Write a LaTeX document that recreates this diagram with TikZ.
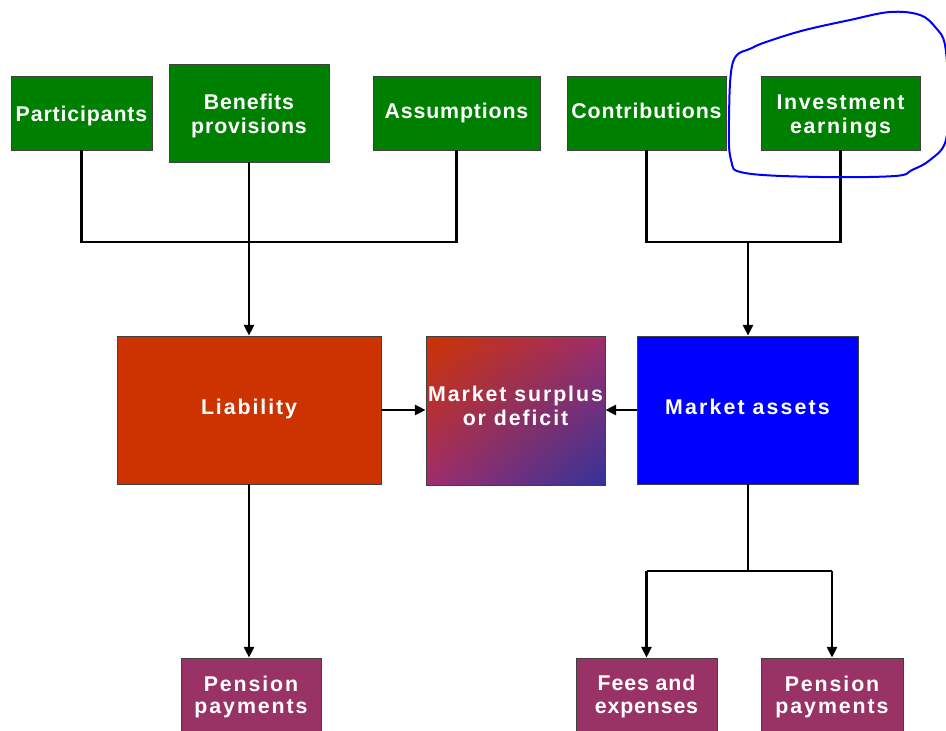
\documentclass[tikz,border=0pt]{standalone}
\usepackage{fontspec}
\setmainfont{Liberation Sans}
\usetikzlibrary{arrows.meta,shadings}
\definecolor{boxgreen}{RGB}{0,128,0}
\definecolor{liabred}{RGB}{204,51,0}
\definecolor{assetblue}{RGB}{0,0,255}
\definecolor{paypurple}{RGB}{153,51,102}
\definecolor{gradblue}{RGB}{51,51,153}
\definecolor{gradmid}{RGB}{160,45,110}
% #1 vertical shift, #2 letter spacing, #3 lines
\newcommand\bxtext[3]{\raisebox{#1}[\height][\depth]{\addfontfeature{LetterSpace=#2}\begin{tabular}{@{}c@{}}#3\end{tabular}}}
\begin{document}
\begin{tikzpicture}[x=0.75pt,y=-0.75pt,
  box/.style={draw=black!75,line width=0.6pt,text=white,inner sep=0pt,
    font=\fontsize{16pt}{18pt}\selectfont\bfseries},
  lowbox/.style={box,font=\fontsize{16pt}{16.75pt}\selectfont\bfseries},
  conn/.style={line width=1.7pt,black},
  arr/.style={conn,-{Triangle[length=8pt,width=7.5pt]}}]
\useasboundingbox (0,0) rectangle (946,731);
\clip (0,0) rectangle (946,731);
% top row
\node[box,fill=boxgreen,minimum width=105.75pt,minimum height=55.5pt] (part) at (81.5,113) {\bxtext{-2.9pt}{4}{Participants}};
\node[box,fill=boxgreen,minimum width=120pt,minimum height=73.5pt] (ben) at (249,113) {\bxtext{-2.6pt}{4}{Benefits\\provisions}};
\node[box,fill=boxgreen,minimum width=125.25pt,minimum height=55.5pt] (ass) at (456.5,113) {\bxtext{-0.4pt}{4}{Assumptions}};
\node[box,fill=boxgreen,minimum width=119.25pt,minimum height=55.5pt] (con) at (646.5,113) {\bxtext{-0.4pt}{4}{Contributions}};
\node[box,fill=boxgreen,minimum width=119.25pt,minimum height=55.5pt] (inv) at (840.5,113) {\bxtext{-3.1pt}{8}{Investment\\earnings}};
% middle row
\node[box,fill=liabred,minimum width=198pt,minimum height=111pt] (liab) at (249,410) {\bxtext{0.4pt}{9}{Liability}};
\shade[upper left=liabred,lower right=gradblue,upper right=gradmid,lower left=gradmid]
  (426,336) rectangle (605,485);
\node[box,minimum width=134.25pt,minimum height=111.75pt] (sur) at (515.5,410.5) {\bxtext{1.2pt}{9}{Market surplus\\or deficit}};
\node[box,fill=assetblue,minimum width=165.75pt,minimum height=111pt] (mass) at (747.5,410) {\bxtext{0pt}{10}{Market assets}};
% bottom row
\node[lowbox,fill=paypurple,minimum width=105pt,minimum height=58.5pt] (penl) at (251,697) {\bxtext{-1pt}{9}{Pension\\payments}};
\node[lowbox,fill=paypurple,minimum width=105.75pt,minimum height=58.5pt] (fees) at (646.5,697) {\bxtext{-0.3pt}{4}{Fees and\\expenses}};
\node[lowbox,fill=paypurple,minimum width=106.5pt,minimum height=58.5pt] (penr) at (832,697) {\bxtext{-1pt}{9}{Pension\\payments}};
% junctions
\coordinate (jl) at (249,242);
\coordinate (jr) at (748,242);
\coordinate (jb) at (748,571);
% left tree
\draw[conn] (part.south) -- (part.south |- jl) -- (ass.south |- jl) -- (ass.south);
\draw[conn] (ben.south) -- (jl);
\draw[arr] (jl) -- (jl |- liab.north);
% right tree
\draw[conn] (con.south) -- (con.south |- jr) -- (inv.south |- jr) -- (inv.south);
\draw[arr] (jr) -- (jr |- mass.north);
% to surplus
\draw[arr] (liab.east) -- (sur.west |- liab.east);
\draw[arr] (mass.west) -- (sur.east |- mass.west);
% downward
\draw[arr] (liab.south) -- (liab.south |- penl.north);
\draw[conn] (mass.south -| jb) -- (jb);
\draw[conn] (fees.north |- jb) -- (penr.north |- jb);
\draw[arr] (fees.north |- jb) -- (fees.north);
\draw[arr] (penr.north |- jb) -- (penr.north);
% hand-drawn loop
\draw[assetblue,line width=1.5pt,line join=round] plot[smooth cycle,tension=0.6] coordinates
  {(733,62) (752,48) (772,40) (805,30) (850,20) (890,12) (920,15) (936,28) (945,45) (948,90) (946,140) (930,160) (912,170) (895,176) (820,177) (745,173) (731,160) (729,120)};
\end{tikzpicture}
\end{document}
